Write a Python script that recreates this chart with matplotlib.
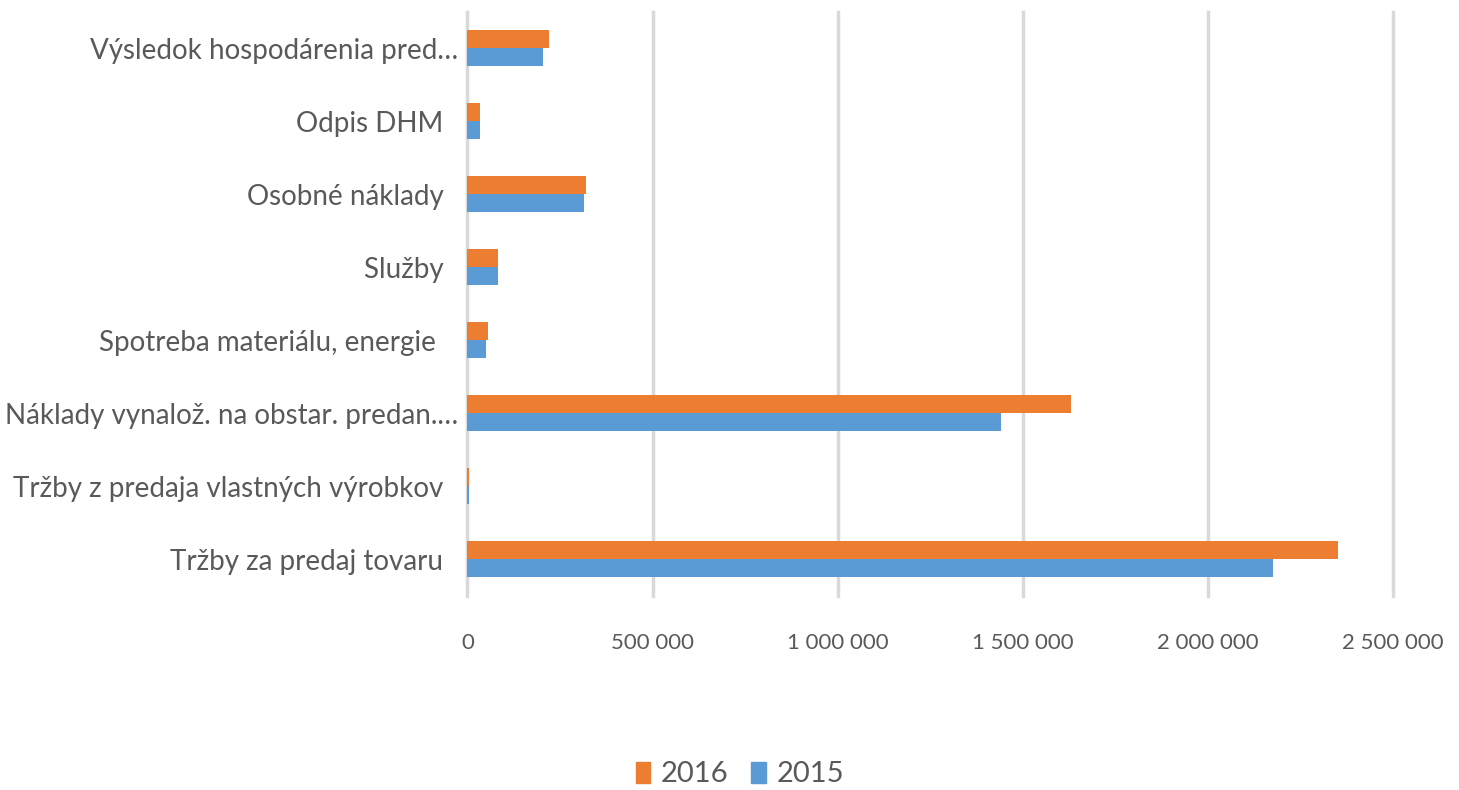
import matplotlib
matplotlib.use('Agg')
import matplotlib.pyplot as plt
import matplotlib.ticker as mticker
import matplotlib.patches as mpatches
import numpy as np

# kategórie zdola nahor (ako v grafe)
categories = [
    'Tržby za predaj tovaru  ',
    'Tržby z predaja vlastných výrobkov  ',
    'Náklady vynalož. na obstar. predan.…',
    'Spotreba materiálu, energie   ',
    'Služby  ',
    'Osobné náklady  ',
    'Odpis DHM  ',
    'Výsledok hospodárenia pred…',
]
vals_2015 = [2177000, 5000, 1442000, 50000, 82000, 315000, 34000, 204000]
vals_2016 = [2350000, 5000, 1631000, 55000, 82000, 320000, 34000, 220000]
xticks = [0, 500000, 1000000, 1500000, 2000000, 2500000]

ORANGE = '#ed7d31'
BLUE = '#5b9bd5'
GRID = '#d9d9d9'
TEXT = '#595959'

plt.rcParams['font.family'] = ['Lato', 'DejaVu Sans']

fig = plt.figure(figsize=(14.59, 7.90), dpi=100, facecolor='white')
ax = fig.add_axes([0.3204, 0.2462, 0.9548 - 0.3204, 0.9854 - 0.2462])

y = np.arange(len(categories))
h = 0.25
ax.barh(y + h / 2, vals_2016, height=h, color=ORANGE, zorder=3)
ax.barh(y - h / 2, vals_2015, height=h, color=BLUE, zorder=3)

ax.set_xlim(0, 2500000)
ax.set_ylim(-0.5, len(categories) - 0.5)
ax.set_xticks(xticks)
ax.xaxis.set_major_formatter(mticker.FuncFormatter(
    lambda v, _: f'{v:,.0f}'.replace(',', ' ')))
ax.set_yticks(y)
ax.set_yticklabels(categories)

ax.grid(axis='x', color=GRID, lw=2.5, zorder=0)
for gl in ax.get_xgridlines():
    gl.set_clip_on(False)
ax.axvline(0, color=GRID, lw=3, zorder=1)
for sp in ax.spines.values():
    sp.set_visible(False)
ax.tick_params(axis='both', length=0, colors=TEXT)
ax.tick_params(axis='y', labelsize=20, pad=7)
ax.tick_params(axis='x', labelsize=16, pad=27)

handles = [mpatches.Patch(color=ORANGE, label='2016'),
           mpatches.Patch(color=BLUE, label='2015')]
fig.legend(handles=handles, loc='lower center', bbox_to_anchor=(0.507, -0.03),
           ncol=2, frameon=False, fontsize=21, labelcolor=TEXT,
           handlelength=0.5, handleheight=0.75, handletextpad=0.35,
           columnspacing=0.8)

fig.savefig('out.png', dpi=100, facecolor='white')
